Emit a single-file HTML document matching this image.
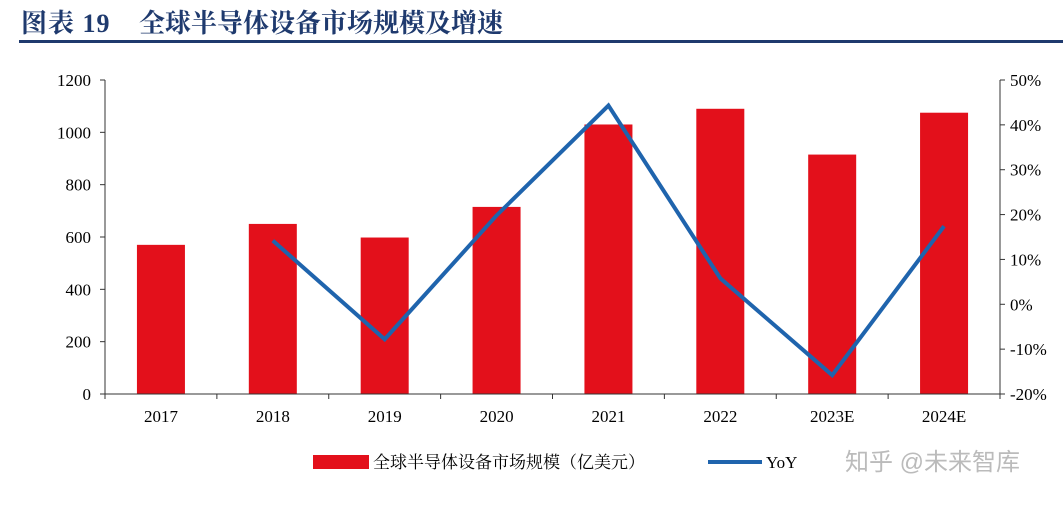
<!DOCTYPE html>
<html><head><meta charset="utf-8"><style>
body{margin:0;width:1063px;height:501px;background:#fff;overflow:hidden;font-family:"Liberation Serif","Noto Serif CJK SC",serif;}
</style></head><body>
<svg id="c" width="1063" height="501" xmlns="http://www.w3.org/2000/svg">
<text x="21" y="32" font-size="26" font-weight="bold" fill="#1f3a6e" letter-spacing="1" font-family="'Liberation Serif','Noto Serif CJK SC',serif">图表 19</text>
<text x="139" y="32" font-size="26" font-weight="bold" fill="#1f3a6e" font-family="'Liberation Serif','Noto Serif CJK SC',serif">全球半导体设备市场规模及增速</text>
<rect x="19" y="40" width="1044" height="3" fill="#1f3a6e"/>
<g id="g"></g>
<rect x="313" y="455" width="56" height="14" fill="#e3101b"/>
<text x="373" y="468" font-size="17" font-family="'Liberation Serif','Noto Serif CJK SC',serif">全球半导体设备市场规模（亿美元）</text>
<line x1="708" y1="462" x2="762" y2="462" stroke="#1f64ad" stroke-width="4"/>
<text x="766" y="468" font-size="17">YoY</text>
<text x="845" y="470" font-size="24" fill="#bbb" font-family="'Liberation Sans','Noto Sans CJK SC',sans-serif">知乎 @未来智库</text>
</svg>
<script>
const categories=["2017","2018","2019","2020","2021","2022","2023E","2024E"];
const marketSize=[570,650,598,715,1030,1090,915,1075];
const yoy=[null,14.2,-7.8,19.8,44.3,5.8,-15.8,17.4];
const leftTicks=[0,200,400,600,800,1000,1200];
const rightTicks=[-20,-10,0,10,20,30,40,50];
const NS="http://www.w3.org/2000/svg";
const g=document.getElementById('g');
const X0=105,X1=1000,Y0=394,Y1=80;
const bw=(X1-X0)/categories.length;
const yL=v=>Y0-(v/1200)*(Y0-Y1);
const yR=v=>Y0-((v+20)/70)*(Y0-Y1);
const xc=i=>X0+bw*(i+0.5);
function mk(t,a){const e=document.createElementNS(NS,t);for(const k in a)e.setAttribute(k,a[k]);g.appendChild(e);return e;}
leftTicks.forEach(v=>{const t=mk('text',{x:X0-14,y:yL(v)+6,'font-size':17,'text-anchor':'end'});t.textContent=v;


mk('line',{x1:X0-5,x2:X0,y1:yL(v),y2:yL(v),stroke:'#333'});});
rightTicks.forEach(v=>{const t=mk('text',{x:X1+10,y:yR(v)+6,'font-size':17});t.textContent=v+'%';


mk('line',{x1:X1,x2:X1+5,y1:yR(v),y2:yR(v),stroke:'#333'});});
marketSize.forEach((v,i)=>{const r=mk('rect',{x:xc(i)-24,y:yL(v),width:48,height:Y0-yL(v),fill:'#e3101b'});


const t=mk('text',{x:xc(i),y:Y0+28,'font-size':17,'text-anchor':'middle'});t.textContent=categories[i];


mk('line',{x1:X0+bw*i,x2:X0+bw*i,y1:Y0,y2:Y0+5,stroke:'#333'});});
mk('line',{x1:X1,x2:X1,y1:Y0,y2:Y0+5,stroke:'#333'});
const ax=mk('line',{x1:X0,x2:X1,y1:Y0,y2:Y0,stroke:'#333'});


mk('line',{x1:X0,x2:X0,y1:Y1,y2:Y0,stroke:'#333'});
mk('line',{x1:X1,x2:X1,y1:Y1,y2:Y0,stroke:'#333'});
const pts=yoy.map((v,i)=>v==null?null:xc(i)+','+yR(v)).filter(p=>p);
const pl=mk('polyline',{points:pts.join(' '),fill:'none',stroke:'#1f64ad','stroke-width':4,'stroke-linejoin':'miter'});


</script>
</body></html>
